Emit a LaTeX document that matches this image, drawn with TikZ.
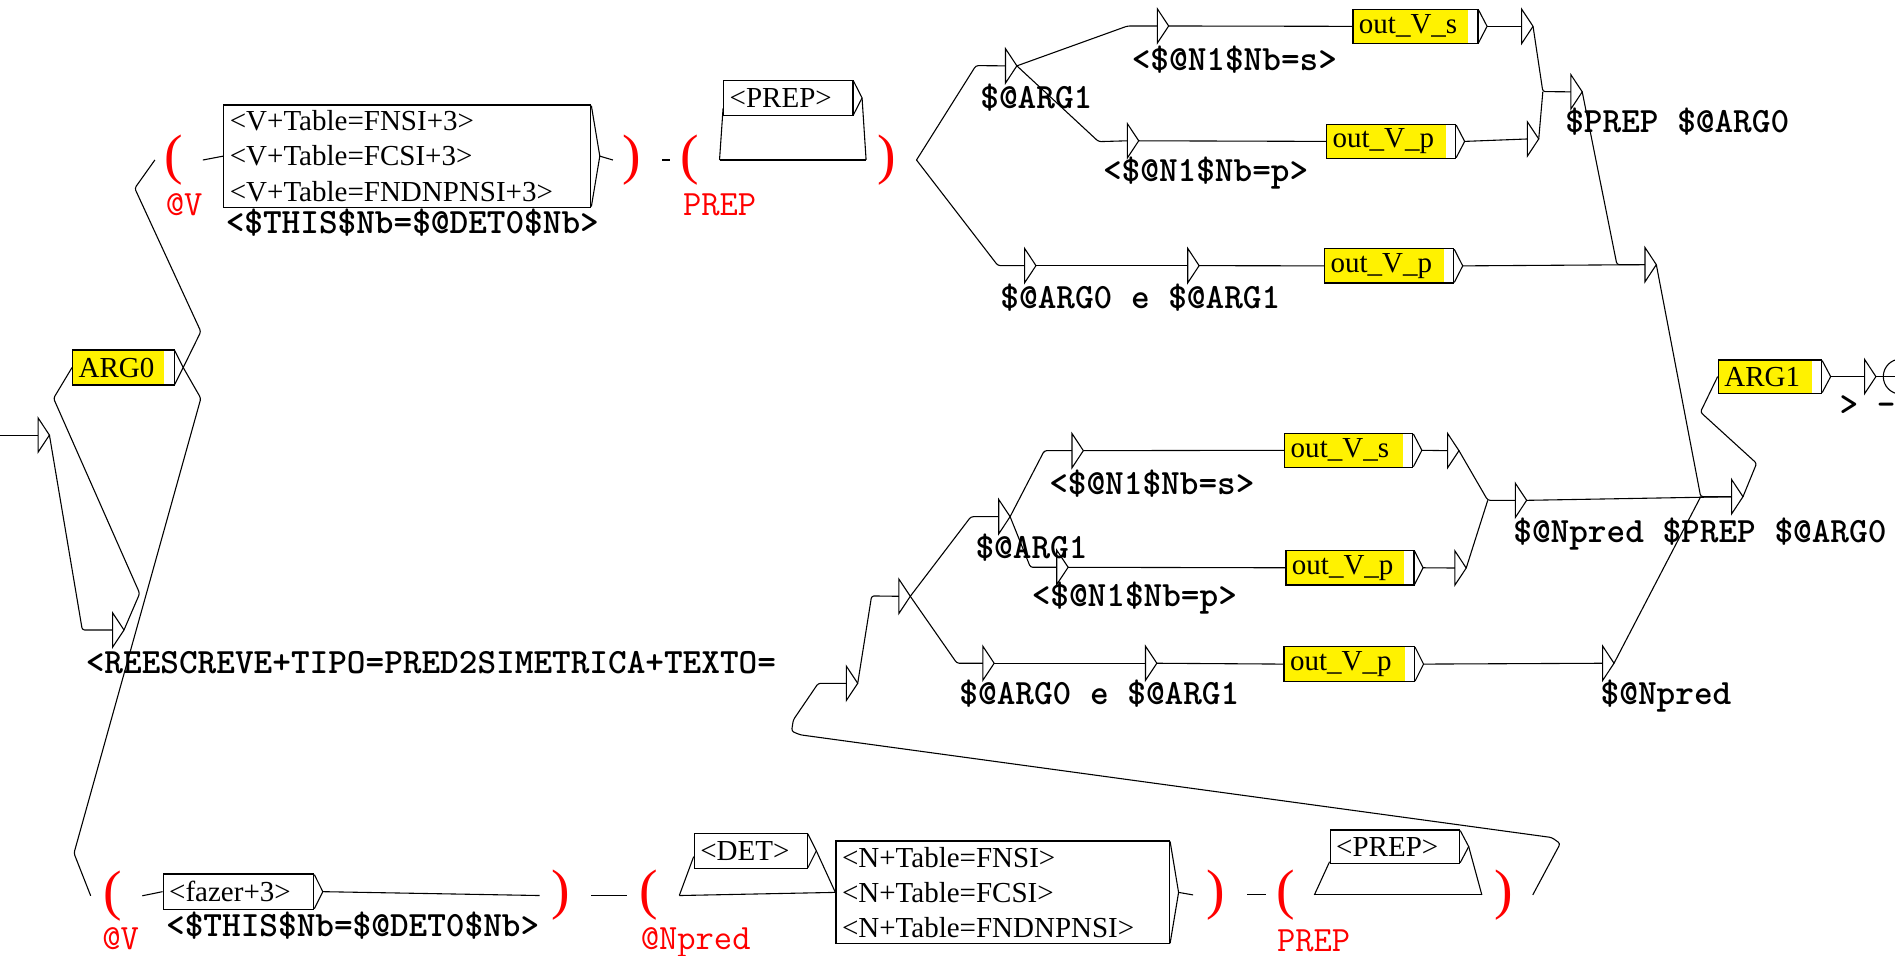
\documentclass[tikz,border=0pt]{standalone}
\usepackage{fontspec}
\setmainfont{Liberation Serif}
\usetikzlibrary{calc}

\newcommand\boxfont{\fontsize{24}{29}\selectfont}
\newcommand\outfont{\ttfamily\bfseries\fontsize{29.4}{30}\selectfont}
\newcommand\varfont{\ttfamily\fontsize{29.4}{30}\selectfont}
\newcommand\parfont{\fontsize{46}{46}\selectfont}

\tikzset{
  ubox/.style={draw, line width=1pt, inner xsep=5pt, inner ysep=0pt, align=left, font=\boxfont},
  ybox/.style={ubox, fill=yellow, path picture={\fill[white] ([xshift=-8pt]path picture bounding box.north east) rectangle (path picture bounding box.south east);}},
  eps/.style={inner sep=0pt, minimum width=9pt, minimum height=28pt},
  outlab/.style={anchor=base west, inner sep=0pt, font=\outfont},
  varlab/.style={anchor=base west, inner sep=0pt, font=\varfont, text=red},
  paren/.style={inner sep=0pt, font=\parfont, text=red},
  conn/.style={line width=0.9pt, rounded corners=2pt}
}

\begin{document}
\begin{tikzpicture}[x=1pt,y=-1pt]
  \useasboundingbox (0,0) rectangle (1568,791);
  \fill[white] (0,0) rectangle (1568,791);

  % boxes
  \node[ubox, text width=293.6pt, minimum height=84.6pt] (vbox) at (337,129.2) {<V+Table=FNSI+3>\\<V+Table=FCSI+3>\\<V+Table=FNDNPNSI+3>};
  \node[ybox, text width=74pt, minimum height=29pt] (arg0) at (102.1,304.1) {ARG0};
  \node[ubox, text width=97pt, minimum height=28.5pt] (prep1) at (652.3,81) {<PREP>};
  \node[ybox, text width=93.5pt, minimum height=28pt] (outs1) at (1171.2,21.8) {out\_V\_s};
  \node[ybox, text width=96.8pt, minimum height=28pt] (outp1) at (1151,117) {out\_V\_p};
  \node[ybox, text width=96.8pt, minimum height=28.5pt] (outp2) at (1149.4,220) {out\_V\_p};
  \node[ybox, text width=75.5pt, minimum height=27.5pt] (arg1) at (1464.5,311.6) {ARG1};
  \node[ybox, text width=96pt, minimum height=28pt] (outs2) at (1116,372.6) {out\_V\_s};
  \node[ybox, text width=96pt, minimum height=28.5pt] (outp3) at (1117,469.8) {out\_V\_p};
  \node[ybox, text width=98pt, minimum height=29pt] (outp4) at (1116.4,549.5) {out\_V\_p};
  \node[ubox, text width=114.6pt, minimum height=29.2pt] (fazer) at (197.3,737.8) {<fazer+3>};
  \node[ubox, text width=83.5pt, minimum height=29pt] (det) at (621.2,704) {<DET>};
  \node[ubox, text width=266pt, minimum height=85.2pt] (nbox) at (829.7,738.4) {<N+Table=FNSI>\\<N+Table=FCSI>\\<N+Table=FNDNPNSI>};
  \node[ubox, text width=97.1pt, minimum height=27.6pt] (prep2) at (1154.2,700.5) {<PREP>};

  \foreach \b in {vbox,arg0,prep1,outs1,outp1,outp2,arg1,outs2,outp3,outp4,fazer,det,nbox,prep2}
    \draw[line width=0.9pt] ([yshift=-1pt]\b.north east) -- ([xshift=7pt]\b.east) coordinate (\b-tip) -- ([yshift=1pt]\b.south east);

  % empty boxes
  \foreach \n/\x/\y in {s0/31.7/360, s1/93.4/521.3, ea1/832.2/54.5, ens1/957.8/21.5, enp1/933/116.5,
      eo1/1259.3/21.8, eo2/1264/115, epa/1300/76, eab1/848/219.8, eab2/983/219.8, ej1/1361.3/219,
      em1/700.5/565.4, em2/744/493.4, ea2/826.6/427.5, ens2/887.2/372.9, enp2/874.6/469.4,
      eo3/1198/372.9, eo4/1204/470, enp/1254/414, eab3/813.4/548.8, eab4/948/548.8,
      enpred/1326.3/548.8, ej2/1433/411, efin/1543/311.6} {
    \node[eps] (\n) at (\x+4.5,\y) {};
    \draw[line width=0.9pt] (\n.north west) -- (\n.east) -- (\n.south west) -- cycle;
  }

  \node[draw, circle, minimum size=29pt, inner sep=0pt, line width=0.9pt] (fin) at (1572.8,311.6) {};
  \coordinate (init) at (0,360);

  % parentheses and variable names
  \node[paren] (lp1) at (144,132.4) {(};
  \node[paren] (rp1) at (523,132.4) {)};
  \node[paren] (lp2) at (571,132.4) {(};
  \node[paren] (rp2) at (733.5,132.4) {)};
  \node[paren] (lp3) at (92.9,741.2) {(};
  \node[paren] (rp3) at (464.4,741) {)};
  \node[paren] (lp4) at (537.2,741) {(};
  \node[paren] (rp4) at (1005.7,740.5) {)};
  \node[paren] (lp5) at (1063.7,740.5) {(};
  \node[paren] (rp5) at (1244.4,740.5) {)};

  \node[varlab] (v1) at (137,178) {@V};
  \node[varlab] (v2) at (565,178) {PREP};
  \node[varlab] (v3) at (84.5,786) {@V};
  \node[varlab] (v4) at (530,786) {@Npred};
  \node[varlab] (v5) at (1056.5,787) {PREP};

  % outputs
  \node[outlab] (o1) at (186.6,193.5) {<\$THIS\$Nb=\$@DET0\$Nb>};
  \node[outlab] (o2) at (137.3,774.5) {<\$THIS\$Nb=\$@DET0\$Nb>};
  \node[outlab] (o3) at (70.8,557) {<REESCREVE+TIPO=PRED2SIMETRICA+TEXTO=};
  \node[outlab] (o4) at (811,90) {\$@ARG1};
  \node[outlab] (o5) at (936.3,58) {<\$@N1\$Nb=s>};
  \node[outlab] (o6) at (912.5,150.5) {<\$@N1\$Nb=p>};
  \node[outlab] (o7) at (827.6,255) {\$@ARG0 e \$@ARG1};
  \node[outlab] (o8) at (1295,110) {\$PREP \$@ARG0};
  \node[outlab] (o9) at (807,462) {\$@ARG1};
  \node[outlab] (o10) at (868,409) {<\$@N1\$Nb=s>};
  \node[outlab] (o11) at (853.5,502) {<\$@N1\$Nb=p>};
  \node[outlab] (o12) at (1252,449) {\$@Npred \$PREP \$@ARG0};
  \node[outlab] (o13) at (793.7,583) {\$@ARG0 e \$@ARG1};
  \node[outlab] (o14) at (1324.3,583) {\$@Npred};
  \node[outlab] (o15) at (1522,344) {> -};

  % left part
  \draw[conn] (init) -- (s0.west);
  \draw[conn] (s0.east) -- (68.1,521.3) -- (s1.west);
  \draw[conn] (s1.east) -- (115.6,491) -- (44.3,329.6) -- (arg0.west);
  \draw[conn] (arg0-tip) -- (166.2,274.4) -- (111.5,155.8) -- ([xshift=-8pt]lp1.west);
  \draw[conn] (arg0-tip) -- (166.2,329.6) -- (61.2,706) -- ([xshift=-10pt]lp3.west);

  % upper row
  \draw[conn] ([xshift=16pt]lp1.east) -- (vbox.west);
  \draw[conn] (vbox-tip) -- ([xshift=-8pt]rp1.west);
  \draw[conn] ([xshift=17pt]rp1.east) -- ([xshift=-9pt]lp2.west);
  \draw[conn] ([xshift=16.5pt]lp2.east) coordinate (q1) -- ([xshift=-9pt]rp2.west) coordinate (q2);
  \draw[conn] (q1) -- ([yshift=-8.6pt]prep1.west);
  \draw[conn] (prep1-tip) -- (q2);
  \coordinate (f1) at ([xshift=17pt]rp2.east);
  \draw[conn] (f1) -- (807.5,54.3) -- (ea1.west);
  \draw[conn] (f1) -- (825.7,219.8) -- (eab1.west);
  \draw[conn] (ea1.east) -- (933,21.5) -- (ens1.west);
  \draw[conn] (ea1.east) -- (909,117.2) -- (enp1.west);
  \draw[conn] (ens1.east) -- (outs1.west);
  \draw[conn] (enp1.east) -- (outp1.west);
  \draw[conn] (outs1-tip) -- (eo1.west);
  \draw[conn] (outp1-tip) -- (eo2.west);
  \draw[conn] (eo1.east) -- (1276.6,75.8) -- (epa.west);
  \draw[conn] (eo2.east) -- (1276.6,75.8);
  \draw[conn] (eab1.east) -- (eab2.west);
  \draw[conn] (eab2.east) -- (outp2.west);
  \draw[conn] (outp2-tip) -- (ej1.west);
  \draw[conn] (epa.east) -- (1337.9,219) -- (ej1.west);
  \draw[conn] (ej1.east) -- (1407.2,411) -- (ej2.west);

  % middle part
  \draw[conn] ([xshift=16pt]rp5.east) -- (1291,698) -- (1284,693) -- (662,608) -- (655,605) -- (656.4,595.7) -- (677,565.4) -- (em1.west);
  \draw[conn] (em1.east) -- (721.2,493.1) -- (em2.west);
  \draw[conn] (em2.east) -- (803.4,427.5) -- (ea2.west);
  \draw[conn] (em2.east) -- (791.8,548.8) -- (eab3.west);
  \draw[conn] (ea2.east) -- (864.1,372.9) -- (ens2.west);
  \draw[conn] (ea2.east) -- (852.6,469.4) -- (enp2.west);
  \draw[conn] (ens2.east) -- (outs2.west);
  \draw[conn] (enp2.east) -- (outp3.west);
  \draw[conn] (outs2-tip) -- (eo3.west);
  \draw[conn] (outp3-tip) -- (eo4.west);
  \draw[conn] (eo3.east) -- (1231,414) -- (enp.west);
  \draw[conn] (eo4.east) -- (1231,414);
  \draw[conn] (enp.east) -- (ej2.west);
  \draw[conn] (eab3.east) -- (eab4.west);
  \draw[conn] (eab4.east) -- (outp4.west);
  \draw[conn] (outp4-tip) -- (enpred.west);
  \draw[conn] (enpred.east) -- (1407.2,411);
  \draw[conn] (ej2.east) -- (1453.5,383.4) -- (1407,341) -- (arg1.west);
  \draw[conn] (arg1-tip) -- (efin.west);
  \draw[conn] (efin.east) -- (fin.center);

  % lower row
  \draw[conn] ([xshift=17pt]lp3.east) -- (fazer.west);
  \draw[conn] (fazer-tip) -- ([xshift=-10pt]rp3.west);
  \draw[conn] ([xshift=17pt]rp3.east) -- ([xshift=-10.5pt]lp4.west);
  \draw[conn] ([xshift=17pt]lp4.east) coordinate (q3) -- (nbox.west);
  \draw[conn] (q3) -- ([yshift=-4.8pt]det.west);
  \draw[conn] (det-tip) -- (nbox.west);
  \draw[conn] (nbox-tip) -- ([xshift=-10.6pt]rp4.west);
  \draw[conn] ([xshift=18.4pt]rp4.east) -- ([xshift=-8pt]lp5.west);
  \draw[conn] ([xshift=16pt]lp5.east) coordinate (q4) -- ([xshift=-10.4pt]rp5.west) coordinate (q5);
  \draw[conn] (q4) -- ([yshift=-12.5pt]prep2.west);
  \draw[conn] (prep2-tip) -- (q5);
\end{tikzpicture}
\end{document}
